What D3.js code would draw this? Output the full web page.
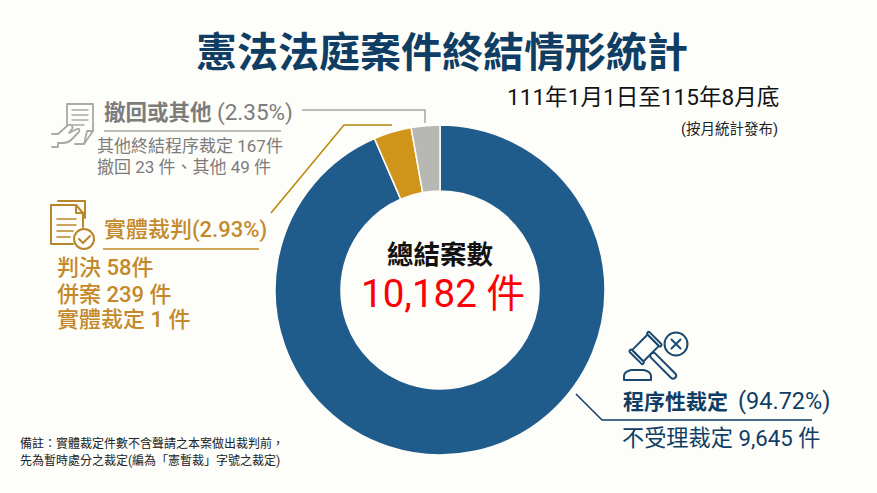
<!DOCTYPE html>
<html lang="zh-Hant">
<head>
<meta charset="utf-8">
<title>憲法法庭案件終結情形統計</title>
<script src="https://d3js.org/d3.v7.min.js"></script>
<style>
  html, body { margin: 0; padding: 0; background: #fdfdfa; }
  svg { display: block; }
  text { font-family: Roboto, "Noto Sans CJK TC", sans-serif; }
</style>
</head>
<body>
<svg id="chart" width="877" height="493"></svg>
<script>
// --- data ---
const categories = ['程序性裁定', '實體裁判', '撤回或其他'];
// ring shares as measured on the picture (it draws the small slices a bit wider than the printed %)
const sliceShares = [93.5, 3.7, 2.8];
const percentLabels = ['94.72%', '2.93%', '2.35%'];
const sliceColors = ['#1f5c8b', '#d0941a', '#b7b7b3'];
const totalLabel = '總結案數';
const totalValue = '10,182 件';

const BLUE = '#0f3d63', GOLD = '#c4892a', GRAY = '#7c7c7c';
const svg = d3.select('#chart');

function label(x, y, str, size, color, weight, anchor) {
  return svg.append('text')
    .attr('x', x).attr('y', y)
    .attr('font-size', size)
    .attr('font-weight', weight || 400)
    .attr('text-anchor', anchor || 'start')
    .attr('fill', color)
    .text(str);
}

function leader(points, color, width) {
  svg.append('path')
    .attr('d', d3.line()(points))
    .attr('fill', 'none')
    .attr('stroke', color)
    .attr('stroke-width', width || 1.5);
}

// --- donut ---
const pie = d3.pie().sort(null)(sliceShares);
const arc = d3.arc().innerRadius(99).outerRadius(165);
svg.append('g').attr('transform', 'translate(440,290)')
  .selectAll('path').data(pie).join('path')
  .attr('d', arc)
  .attr('fill', (d, i) => sliceColors[i])
  .attr('stroke', '#fdfdfa')
  .attr('stroke-width', 1.5);

// --- titles ---
label(442, 67, '憲法法庭案件終結情形統計', 41, BLUE, 700, 'middle');
label(507, 105, '111年1月1日至115年8月底', 22.6, '#111');
label(778, 134, '(按月統計發布)', 14.5, '#222', 400, 'end');

// --- centre ---
label(440, 264, totalLabel, 26.5, '#111', 700, 'middle');
label(443, 307, totalValue, 38.5, '#fb0007', 400, 'middle');

// --- gray group ---
label(104, 120, categories[2], 21.5, GRAY, 700);
label(217, 120, `(${percentLabels[2]})`, 22.5, GRAY);
leader([[302, 110], [425, 110], [425, 123]], '#a5a5a5');
leader([[104, 131], [281, 131]], '#a5a5a5');
label(97, 152, '其他終結程序裁定 167件', 17, GRAY);
label(97, 173, '撤回 23 件、其他 49 件', 17, GRAY);

// --- gold group ---
label(104, 237, categories[1] + `(${percentLabels[1]})`, 22, GOLD, 500);
leader([[271, 213], [344, 125], [392, 125]], '#b8860b');
leader([[103, 249], [259, 249]], GOLD);
label(57, 275, '判決 58件', 22, GOLD, 500);
label(57, 302, '併案 239 件', 22, GOLD, 500);
label(57, 327, '實體裁定 1 件', 22, GOLD, 500);

// --- blue group ---
label(623, 409, categories[0], 21, BLUE, 700);
label(738, 409, `(${percentLabels[0]})`, 23.5, BLUE);
leader([[576, 394], [602, 420], [812, 420]], BLUE);
label(622, 446, '不受理裁定 9,645 件', 22.2, BLUE);

// --- footnote ---
label(20, 448, '備註：實體裁定件數不含聲請之本案做出裁判前，', 12, '#222');
label(20, 465, '先為暫時處分之裁定(編為「憲暫裁」字號之裁定)', 12, '#222');

// --- icons ---
function icon(x, y, color, sw) {
  return svg.append('g').attr('transform', `translate(${x},${y})`)
    .attr('fill', 'none').attr('stroke', color).attr('stroke-width', sw)
    .attr('stroke-linecap', 'round').attr('stroke-linejoin', 'round');
}

// hand holding a sheet
const hand = icon(50, 102, '#a9a9a7', 1.8);
hand.append('path').attr('d', 'M17 24V2H43V29L34 42H25');
hand.append('path').attr('d', 'M43 29H37L34 42');
hand.append('path').attr('d', 'M22 8H38M22 13H38M22 18H38M22 23H34').attr('stroke-width', 1.4);
hand.append('path').attr('d', 'M2 32H8L17 24C20 21 24 24 22 27L19 31L27 27C30 26 30 29 28 31L21 38C19 40 16 41 13 41H8V45H2');

// documents with a check mark
const docs = icon(50, 200, '#b8862c', 2);
docs.append('path').attr('d', 'M8 1H35V18');
docs.append('path').attr('d', 'M1 5H26L33 13V27M1 5V44H23');
docs.append('path').attr('d', 'M26 5V13H33');
docs.append('path').attr('d', 'M7 19H26M7 25H26M7 31H23M7 37H20').attr('stroke-width', 1.6);
docs.append('circle').attr('cx', 34).attr('cy', 39).attr('r', 10);
docs.append('path').attr('d', 'M29 39L33 43L40 36');

// gavel with a cross
const gavel = icon(623, 332, '#1b4a70', 2);
gavel.append('path').attr('d', 'M1 48V44C1 41 4 39 8 38H21C25 39 28 41 28 44V48Z');
const head = gavel.append('g').attr('transform', 'translate(22.5,16) rotate(45)');
head.append('rect').attr('x', -8).attr('y', -11).attr('width', 16).attr('height', 22).attr('fill', '#fdfdfa');
head.append('rect').attr('x', -9.5).attr('y', -14).attr('width', 19).attr('height', 3).attr('rx', 1.4).attr('fill', '#fdfdfa');
head.append('rect').attr('x', -9.5).attr('y', 11).attr('width', 19).attr('height', 3).attr('rx', 1.4).attr('fill', '#fdfdfa');
head.append('rect').attr('x', 8).attr('y', -3).attr('width', 34).attr('height', 6).attr('rx', 3);
gavel.append('circle').attr('cx', 53).attr('cy', 12).attr('r', 11.5);
gavel.append('path').attr('d', 'M48.5 7.5L57.5 16.5M57.5 7.5L48.5 16.5');
</script>
</body>
</html>
